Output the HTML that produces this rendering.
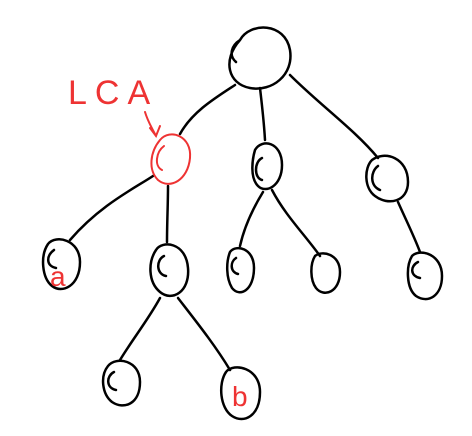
<!DOCTYPE html>
<html><head><meta charset="utf-8"><style>
html,body{margin:0;padding:0;background:#fff;width:472px;height:436px;overflow:hidden}
</style></head><body>
<svg width="472" height="436" viewBox="0 0 472 436" xmlns="http://www.w3.org/2000/svg">
<g fill="none" stroke="#000" stroke-width="2.5" stroke-linecap="round">
<path d="M240,40 C250,22 285,22 290,50 C294,75 272,92 250,88 C228,84 222,60 240,40 Z M240,40 C232,45 228,55 236,62"/>
<path d="M255,150 C262,138 282,142 282,165 C282,186 266,194 258,186 C250,178 252,160 255,150 Z M262,158 C254,162 254,178 262,180"/>
<path d="M372,160 C385,150 408,158 408,182 C408,202 388,206 375,196 C364,188 364,168 372,160 Z M378,166 C370,172 370,186 380,190"/>
<path d="M156,250 C162,240 186,242 188,268 C190,292 172,302 160,292 C148,282 148,262 156,250 Z M164,256 C156,260 156,274 166,276"/>
<path d="M230,252 C236,244 254,248 254,268 C254,290 240,298 232,288 C226,278 226,262 230,252 Z M236,258 C230,262 230,272 238,274"/>
<path d="M315,256 C322,250 340,254 340,272 C340,292 324,298 316,288 C310,280 310,264 315,256 Z"/>
<path d="M412,256 C420,248 442,254 442,276 C442,296 428,304 416,296 C406,288 406,266 412,256 Z M418,262 C410,266 410,276 420,278"/>
<path d="M108,366 C116,356 140,360 140,382 C140,404 124,410 112,402 C102,394 100,376 108,366 Z M114,372 C106,376 106,388 116,390"/>
<path d="M235,85 C215,98 192,112 180,134"/>
<path d="M260,88 C262,105 264,122 265,140"/>
<path d="M290,75 C320,105 355,130 378,158"/>
<path d="M153,176 C135,188 100,205 70,240"/>
<path d="M168,186 C168,205 167,222 167,242"/>
<path d="M263,192 C252,210 244,228 240,246"/>
<path d="M272,190 C285,215 305,235 320,256"/>
<path d="M398,202 C406,220 414,236 420,252"/>
<path d="M160,298 C148,320 132,340 120,360"/>
<path d="M178,298 C195,320 215,345 230,370"/>
<path d="M48,244 C56,234 80,240 80,262 C80,286 62,294 52,286 C42,278 40,256 48,244 Z M54,250 C46,256 46,266 56,268"/>
<path d="M226,372 C234,362 260,368 260,392 C260,416 244,424 232,416 C220,408 218,384 226,372 Z"/>
</g>
<g fill="none" stroke="#e33" stroke-width="2" stroke-linecap="round">
<path d="M160,140 C170,128 192,136 190,158 C188,180 170,190 158,180 C148,170 150,152 160,140 Z M164,146 C156,152 154,166 162,170"/>
<path d="M145,112 C148,122 152,128 156,136 M150,128 L156,136 L160,126"/>
</g>
<text x="68" y="104" font-family="Liberation Sans, sans-serif" font-size="34" fill="#e33" letter-spacing="8">LCA</text>
<text x="50" y="286" font-family="Liberation Sans, sans-serif" font-size="28" fill="#e33">a</text>
<text x="232" y="406" font-family="Liberation Sans, sans-serif" font-size="28" fill="#e33">b</text>
</svg>
</body></html>
